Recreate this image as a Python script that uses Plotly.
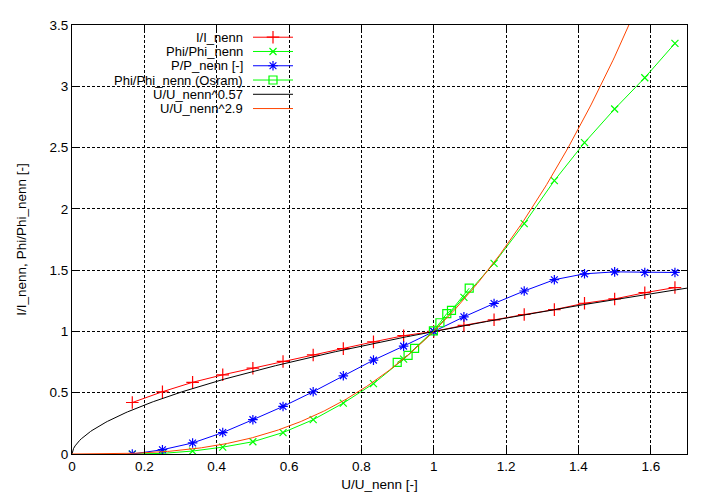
import numpy as np
import plotly.graph_objects as go

# ---- data ----
u_meas = [2/12, 3/12, 4/12, 5/12, 6/12, 7/12, 8/12, 9/12, 10/12, 11/12, 1.0,
          13/12, 14/12, 15/12, 16/12, 17/12, 18/12, 19/12, 20/12]
i_rel = [0.42, 0.508, 0.585, 0.646, 0.70, 0.755, 0.808, 0.86, 0.915, 0.965, 1.0,
         1.05, 1.095, 1.138, 1.178, 1.23, 1.265, 1.316, 1.358]
phi_rel = [0.0, 0.005, 0.024, 0.056, 0.10, 0.175, 0.28, 0.415, 0.574, 0.774, 1.0,
           1.278, 1.555, 1.88, 2.23, 2.54, 2.815, 3.07, 3.35]
p_rel = [0.0, 0.035, 0.09, 0.175, 0.28, 0.388, 0.508, 0.638, 0.766, 0.88, 1.0,
         1.119, 1.228, 1.33, 1.422, 1.47, 1.486, 1.481, 1.481]
u_osram = [0.899, 0.929, 0.947, 0.999, 1.017, 1.036, 1.049, 1.098]
phi_osram = [0.747, 0.805, 0.861, 1.005, 1.071, 1.146, 1.172, 1.353]
exp_i = 0.57
exp_phi = 2.9

names = ["I/I_nenn", "Phi/Phi_nenn", "P/P_nenn [-]", "Phi/Phi_nenn (Osram)",
         "U/U_nenn^0.57", "U/U_nenn^2.9"]
colors = ["#ff0000", "#00ff00", "#0000ff", "#00ff00", "#000000", "#ff4500"]
symbols = ["cross-thin-open", "x-thin-open", "asterisk-open", "square-open", None, None]
msizes = [9, 7, 8, 8, 0, 0]

FONT = "Liberation Sans"
FS = 13.5
FS_KEY = 13

fig = go.Figure()

ux = np.linspace(0, 1.7, 400)

series = [
    (u_meas, i_rel),
    (u_meas, phi_rel),
    (u_meas, p_rel),
    (u_osram, phi_osram),
    (ux, ux ** exp_i),
    (ux, ux ** exp_phi),
]

for k, (xs, ys) in enumerate(series):
    if symbols[k]:
        fig.add_trace(go.Scatter(
            x=xs, y=ys, mode="lines+markers", name=names[k],
            line=dict(color=colors[k], width=1),
            marker=dict(symbol=symbols[k], size=msizes[k],
                        line=dict(color=colors[k], width=1.2), color=colors[k]),
            showlegend=False))
    else:
        fig.add_trace(go.Scatter(
            x=xs, y=ys, mode="lines", name=names[k],
            line=dict(color=colors[k], width=1), showlegend=False))

# ---- layout geometry (page body has an 8px margin) ----
OFF = 8
FIG_W, FIG_H = 713 - OFF, 500 - OFF
PL, PR, PT, PB = 72, 687, 18, 457          # plot area in window pixels
L, T = PL - OFF, PT - OFF
R = OFF + FIG_W - PR
B = OFF + FIG_H - PB
W, H = PR - PL, PB - PT


def fx(px):
    return (px - PL) / W


def fy(py):
    return (PB - py) / H


shapes = [dict(type="rect", xref="paper", yref="paper",
               x0=fx(73), x1=fx(300), y0=fy(109), y1=1.0,
               fillcolor="white", line=dict(width=0), layer="between")]
annotations = []
row0, drow = 30.5, 14.6
for k, name in enumerate(names):
    yy = fy(row0 + k * drow)
    annotations.append(dict(text=name, xref="paper", yref="paper",
                            x=fx(245), y=yy, xanchor="right", yanchor="middle",
                            showarrow=False,
                            font=dict(family=FONT, size=FS_KEY, color="black")))
    shapes.append(dict(type="line", xref="paper", yref="paper",
                       x0=fx(253), x1=fx(293), y0=yy, y1=yy,
                       line=dict(color=colors[k], width=1), layer="above"))
    if symbols[k]:
        fig.add_trace(go.Scatter(
            x=[fx(273)], y=[yy], xaxis="x2", yaxis="y2", mode="markers",
            marker=dict(symbol=symbols[k], size=msizes[k],
                        line=dict(color=colors[k], width=1.2), color=colors[k]),
            showlegend=False, hoverinfo="skip"))

grid = dict(showgrid=True, gridcolor="black", gridwidth=1, griddash="3px,2px",
            zeroline=False, showline=True, linecolor="black", linewidth=1,
            mirror="ticks", ticks="inside", ticklen=6, tickcolor="black",
            tickfont=dict(family=FONT, size=FS, color="black"))

fig.update_layout(
    width=FIG_W, height=FIG_H,
    margin=dict(l=L, r=R, t=T, b=B, pad=0),
    paper_bgcolor="white", plot_bgcolor="white",
    showlegend=False,
    xaxis=dict(range=[0, 1.7], dtick=0.2, tick0=0,
               title=dict(text="U/U_nenn [-]", standoff=6,
                          font=dict(family=FONT, size=FS, color="black")),
               **grid),
    yaxis=dict(range=[0, 3.5], dtick=0.5, tick0=0,
               title=dict(text="I/I_nenn, Phi/Phi_nenn [-]", standoff=19,
                          font=dict(family=FONT, size=FS, color="black")),
               **grid),
    xaxis2=dict(range=[0, 1], overlaying="x", visible=False, fixedrange=True),
    yaxis2=dict(range=[0, 1], overlaying="y", visible=False, fixedrange=True),
    shapes=shapes,
    annotations=annotations,
)

fig.write_html("out.html")
